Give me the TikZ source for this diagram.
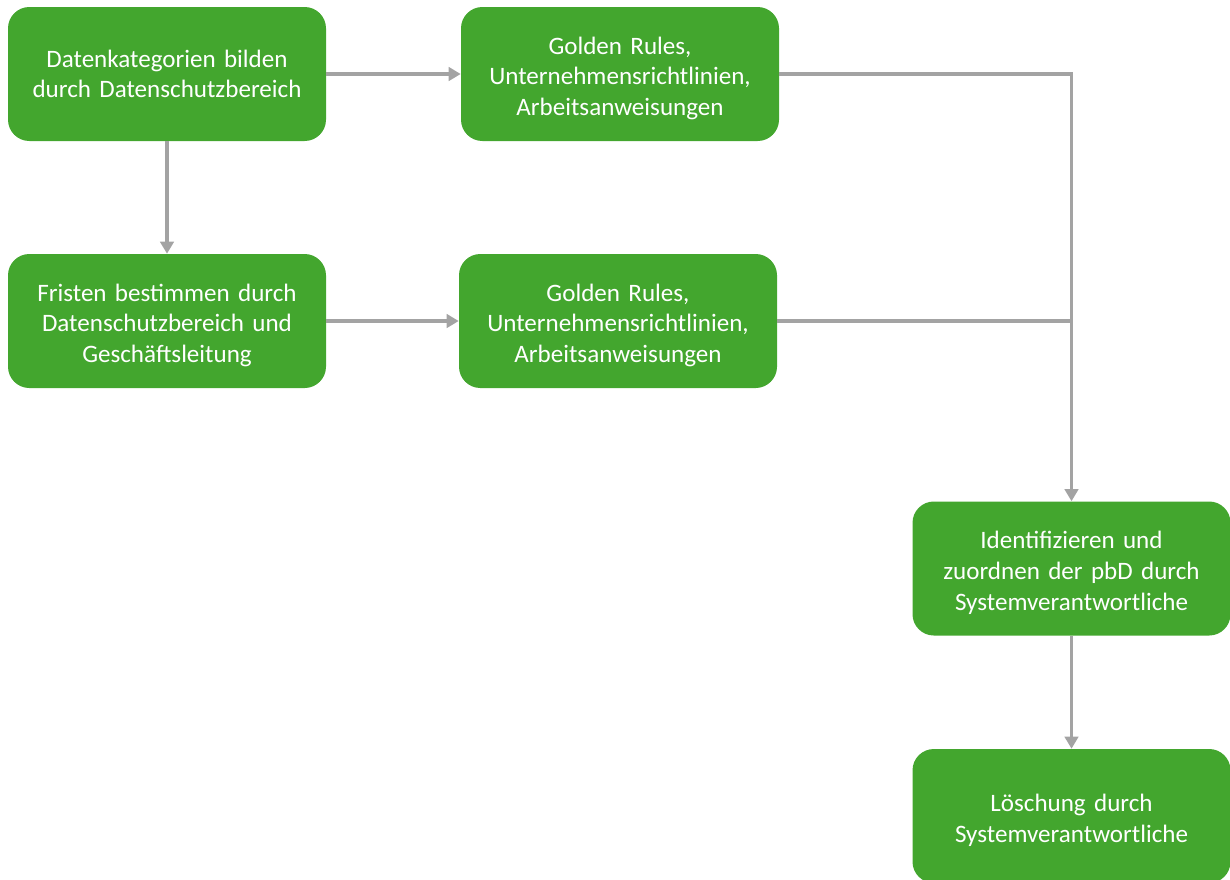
\documentclass[tikz,border=0pt]{standalone}
\usepackage{fontspec}
\setmainfont{Carlito}
\usetikzlibrary{arrows.meta}
\definecolor{boxgreen}{RGB}{67,166,46}
\definecolor{linegray}{RGB}{163,163,163}
\begin{document}
\begin{tikzpicture}[x=0.75pt,y=-0.75pt,
  boxbase/.style={rectangle, rounded corners=16pt, fill=boxgreen, draw=none,
    minimum width=238.5pt, minimum height=100.5pt, text width=230pt, align=center,
    text=white, font=\fontsize{18.8}{23}\selectfont, inner sep=0pt},
  box/.style={boxbase, execute at begin node={\rule{0pt}{19.5pt}}},
  conn/.style={draw=linegray, line width=2.3pt},
  arr/.style={conn, -{Triangle[length=9pt,width=10pt]}}]
\useasboundingbox (0,0) rectangle (1230,879);
\node[boxbase] (b1) at (167,74) {Datenkategorien bilden\\durch Datenschutzbereich};
\node[box] (b2) at (620,74) {Golden Rules,\\Unternehmensrichtlinien,\\Arbeitsanweisungen};
\node[box] (b3) at (167,321) {Fristen bestimmen durch\\Datenschutzbereich und\\Geschäftsleitung};
\node[box] (b4) at (618,321) {Golden Rules,\\Unternehmensrichtlinien,\\Arbeitsanweisungen};
\node[box] (b5) at (1071.5,568.5) {Identifizieren und\\zuordnen der pbD durch\\Systemverantwortliche};
\node[box] (b6) at (1071.5,816) {Löschung durch\\Systemverantwortliche};
\coordinate (j) at (1072,321);
\draw[arr] (b1.east) -- (b2.west);
\draw[arr] (b1.south) -- (b3.north);
\draw[arr] (b3.east) -- (b4.west);
\draw[arr] (b2.east) -| (b5.north);
\draw[conn] (b4.east) -- (j);
\draw[arr] (b5.south) -- (b6.north);
\end{tikzpicture}
\end{document}
